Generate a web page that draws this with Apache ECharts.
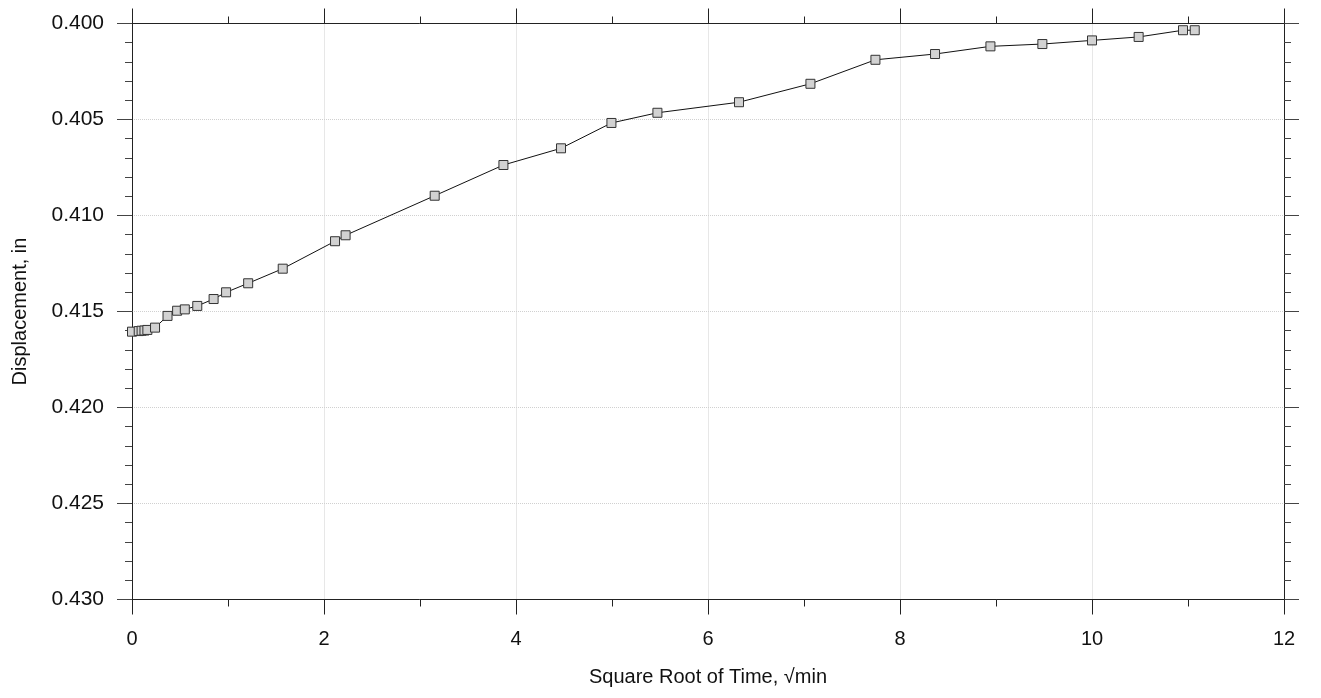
<!DOCTYPE html>
<html>
<head>
<meta charset="utf-8">
<script src="https://cdn.jsdelivr.net/npm/echarts@6/dist/echarts.min.js"></script>
<style>
html,body{margin:0;padding:0;background:#fff;}
#chart{width:1321px;height:698px;}
</style>
</head>
<body>
<div id="chart"></div>
<script>
var sqrtTime = [0, 0.07, 0.10, 0.13, 0.16, 0.24, 0.37, 0.47, 0.55, 0.68, 0.85, 0.98, 1.21, 1.57, 2.115, 2.225, 3.153, 3.869, 4.469, 4.994, 5.473, 6.323, 7.067, 7.744, 8.365, 8.942, 9.483, 10.0, 10.486, 10.948, 11.07];
var displacement = [0.41605, 0.41602, 0.41600, 0.41599, 0.41596, 0.41584, 0.41523, 0.41496, 0.41489, 0.41471, 0.41435, 0.41400, 0.41353, 0.41277, 0.41134, 0.41103, 0.40897, 0.40737, 0.40650, 0.40518, 0.40465, 0.40410, 0.40314, 0.40189, 0.40159, 0.40119, 0.40107, 0.40088, 0.40070, 0.40035, 0.40035];
var xTicks = [0, 2, 4, 6, 8, 10, 12];
var yTicks = [0.400, 0.405, 0.410, 0.415, 0.420, 0.425, 0.430];

var FONT = '"Liberation Sans", Arial, sans-serif';
var points = sqrtTime.map(function (x, i) { return [x, displacement[i]]; });

function xAx(pos, showLabel) {
  return {
    type: 'value', position: pos,
    min: xTicks[0], max: xTicks[xTicks.length - 1], interval: xTicks[1] - xTicks[0],
    name: showLabel ? 'Square Root of Time, \u221Amin' : '',
    nameLocation: 'middle', nameGap: 68,
    nameTextStyle: { fontFamily: FONT, fontSize: 20, color: '#111', verticalAlign: 'top' },
    axisLine: { show: true, onZero: false, lineStyle: { color: '#222', width: 1 } },
    axisTick: { show: true, inside: false, length: 15, lineStyle: { color: '#222', width: 1 } },
    minorTick: { show: true, splitNumber: 2, length: 7, lineStyle: { color: '#222', width: 1 } },
    axisLabel: { show: showLabel, fontFamily: FONT, fontSize: 20, color: '#111', margin: 30 },
    splitLine: { show: showLabel, lineStyle: { color: '#d0d0d0', type: 'dotted', width: 1 } }
  };
}
function yAx(pos, showLabel) {
  return {
    type: 'value', position: pos, inverse: true,
    min: yTicks[0], max: yTicks[yTicks.length - 1], interval: 0.005,
    name: showLabel ? 'Displacement, in' : '',
    nameLocation: 'middle', nameGap: 102, nameRotate: 90,
    nameTextStyle: { fontFamily: FONT, fontSize: 20, color: '#111' },
    axisLine: { show: true, onZero: false, lineStyle: { color: '#222', width: 1 } },
    axisTick: { show: true, inside: false, length: 15, lineStyle: { color: '#444', width: 1 } },
    minorTick: { show: true, splitNumber: 5, length: 7, lineStyle: { color: '#444', width: 1 } },
    axisLabel: { show: showLabel, fontFamily: FONT, fontSize: 21, color: '#111', margin: 28,
      formatter: function (v) { return v.toFixed(3); } },
    splitLine: { show: showLabel, lineStyle: { color: '#d0d0d0', type: 'dotted', width: 1 } }
  };
}

var chart = echarts.init(document.getElementById('chart'), null, { renderer: 'canvas' });
chart.setOption({
  animation: false,
  backgroundColor: '#fff',
  grid: { left: 132, right: 37, top: 23.5, bottom: 98.5, containLabel: false, outerBoundsMode: 'none' },
  xAxis: [xAx('bottom', true), xAx('top', false)],
  yAxis: [yAx('left', true), yAx('right', false)],
  series: [{
    type: 'line', xAxisIndex: 0, yAxisIndex: 0,
    data: points,
    symbol: 'rect', symbolSize: 9,
    itemStyle: { color: '#d2d2d2', borderColor: '#333', borderWidth: 1 },
    lineStyle: { color: '#111', width: 1 },
    clip: false
  }]
});
</script>
</body>
</html>
